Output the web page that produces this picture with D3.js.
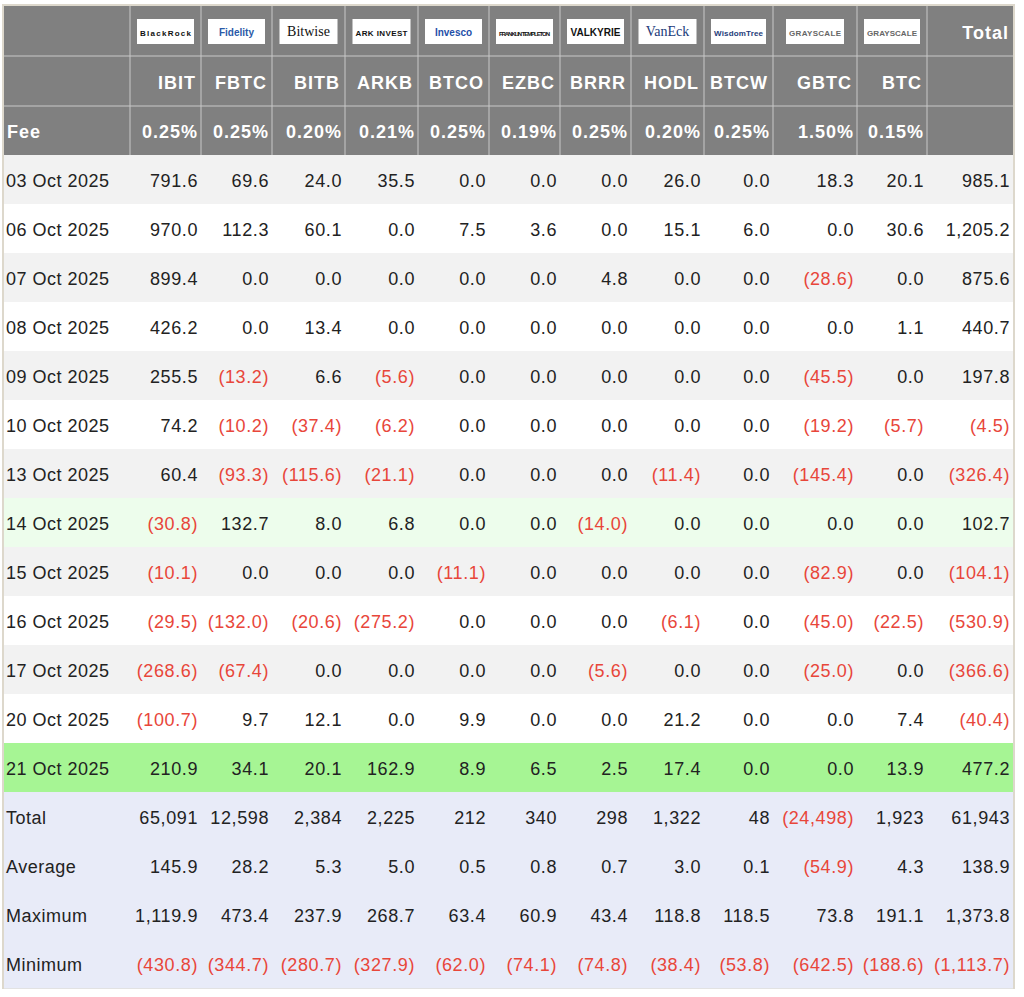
<!DOCTYPE html>
<meta charset="utf-8">
<script src="https://d3js.org/d3.v7.min.js"></script>
<style>body{margin:0;background:#fff}</style>
<body>
<div id="chart"></div>
<script>
// column data
const issuers = ["BlackRock", "Fidelity", "Bitwise", "ARK INVEST", "Invesco", "FRANKLIN TEMPLETON", "VALKYRIE", "VanEck", "WisdomTree", "GRAYSCALE", "GRAYSCALE"];
const tickers = ["IBIT", "FBTC", "BITB", "ARKB", "BTCO", "EZBC", "BRRR", "HODL", "BTCW", "GBTC", "BTC"];
const fees = ["0.25%", "0.25%", "0.20%", "0.21%", "0.25%", "0.19%", "0.25%", "0.20%", "0.25%", "1.50%", "0.15%"];

const dates = ["03 Oct 2025", "06 Oct 2025", "07 Oct 2025", "08 Oct 2025", "09 Oct 2025", "10 Oct 2025", "13 Oct 2025",
  "14 Oct 2025", "15 Oct 2025", "16 Oct 2025", "17 Oct 2025", "20 Oct 2025", "21 Oct 2025"];
const flows = [
  [791.6, 69.6, 24.0, 35.5, 0.0, 0.0, 0.0, 26.0, 0.0, 18.3, 20.1, 985.1],
  [970.0, 112.3, 60.1, 0.0, 7.5, 3.6, 0.0, 15.1, 6.0, 0.0, 30.6, 1205.2],
  [899.4, 0.0, 0.0, 0.0, 0.0, 0.0, 4.8, 0.0, 0.0, -28.6, 0.0, 875.6],
  [426.2, 0.0, 13.4, 0.0, 0.0, 0.0, 0.0, 0.0, 0.0, 0.0, 1.1, 440.7],
  [255.5, -13.2, 6.6, -5.6, 0.0, 0.0, 0.0, 0.0, 0.0, -45.5, 0.0, 197.8],
  [74.2, -10.2, -37.4, -6.2, 0.0, 0.0, 0.0, 0.0, 0.0, -19.2, -5.7, -4.5],
  [60.4, -93.3, -115.6, -21.1, 0.0, 0.0, 0.0, -11.4, 0.0, -145.4, 0.0, -326.4],
  [-30.8, 132.7, 8.0, 6.8, 0.0, 0.0, -14.0, 0.0, 0.0, 0.0, 0.0, 102.7],
  [-10.1, 0.0, 0.0, 0.0, -11.1, 0.0, 0.0, 0.0, 0.0, -82.9, 0.0, -104.1],
  [-29.5, -132.0, -20.6, -275.2, 0.0, 0.0, 0.0, -6.1, 0.0, -45.0, -22.5, -530.9],
  [-268.6, -67.4, 0.0, 0.0, 0.0, 0.0, -5.6, 0.0, 0.0, -25.0, 0.0, -366.6],
  [-100.7, 9.7, 12.1, 0.0, 9.9, 0.0, 0.0, 21.2, 0.0, 0.0, 7.4, -40.4],
  [210.9, 34.1, 20.1, 162.9, 8.9, 6.5, 2.5, 17.4, 0.0, 0.0, 13.9, 477.2]
];
const statLabels = ["Total", "Average", "Maximum", "Minimum"];
const stats = [
  [65091, 12598, 2384, 2225, 212, 340, 298, 1322, 48, -24498, 1923, 61943],
  [145.9, 28.2, 5.3, 5.0, 0.5, 0.8, 0.7, 3.0, 0.1, -54.9, 4.3, 138.9],
  [1119.9, 473.4, 237.9, 268.7, 63.4, 60.9, 43.4, 118.8, 118.5, 73.8, 191.1, 1373.8],
  [-430.8, -344.7, -280.7, -327.9, -62.0, -74.1, -74.8, -38.4, -53.8, -642.5, -188.6, -1113.7]
];

const colEdges = [4, 130, 201, 272, 345, 418, 489, 560, 631, 704, 773, 857, 927, 1013];
const headH = [6, 56, 106, 155];
const top0 = 155, rowH = 49;
const font = "Helvetica, Arial, 'Liberation Sans', sans-serif";

const svg = d3.select("#chart").append("svg").attr("width", 1024).attr("height", 997);
const x = i => colEdges[i];

const fmt1 = d3.format(",.1f"), fmt0 = d3.format(",.0f");
const show = (v, f) => v < 0 ? `(${f(-v)})` : f(v);

// outer frame
svg.append("rect").attr("x", 3).attr("y", 5).attr("width", 1011).attr("height", 983)
  .attr("fill", "none").attr("stroke", "#ddd8cc").attr("stroke-width", 2);

// header
svg.append("rect").attr("x", 4).attr("y", 6).attr("width", 1009).attr("height", 149).attr("fill", "#808080");

const g = svg.append("g").attr("font-family", font);

issuers.forEach((name, i) => {
  const cx = (x(i + 1) + x(i + 2)) / 2;
  const w = Math.min(58, x(i + 2) - x(i + 1) - 14);
  g.append("rect").attr("x", cx - w / 2).attr("y", 19).attr("width", w).attr("height", 25).attr("fill", "#fff");
  const colr = {"Fidelity": "#2a5aa8", "Invesco": "#1f4fa8", "VanEck": "#1b3a7a", "WisdomTree": "#253d7a", "GRAYSCALE": "#666"}[name] || "#111";
  const serif = name === "Bitwise" || name === "VanEck";
  g.append("text").attr("x", cx).attr("y", 35.5).attr("text-anchor", "middle")
    .attr("font-size", name.length > 12 ? 6 : (name.length > 8 ? 8 : (serif ? 14 : 10)))
    .attr("font-weight", serif ? "normal" : "bold")
    .attr("font-family", serif ? "'Liberation Serif', serif" : font)
    .attr("textLength", name.length > 8 ? w - 6 : null)
    .attr("fill", colr).text(name);
});

const hdr = (t, xx, yy, anchor) => g.append("text").attr("x", xx).attr("y", yy).attr("text-anchor", anchor)
  .attr("fill", "#fff").attr("font-size", 18).attr("font-weight", "bold").attr("letter-spacing", 1).text(t);
hdr("Fee", 7, 138, "start");
tickers.forEach((t, i) => {
  hdr(t, x(i + 2) - 5, 89, "end");
  hdr(fees[i], x(i + 2) - 3, 138, "end");
});
hdr("Total", x(13) - 4, 39, "end");

// header grid
colEdges.slice(1, -1).forEach(e => g.append("line").attr("x1", e).attr("x2", e).attr("y1", 6).attr("y2", 155).attr("stroke", "#c8c8c8"));
headH.slice(1, 3).forEach(h => g.append("line").attr("x1", 4).attr("x2", 1013).attr("y1", h).attr("y2", h).attr("stroke", "#c8c8c8"));

// body rows
const rows = dates.map((d, i) => ({label: d, vals: flows[i], f: fmt1, kind: "data", i}))
  .concat(statLabels.map((d, i) => ({label: d, vals: stats[i], f: i === 0 ? fmt0 : fmt1, kind: "stat", i})));

const rowFill = r => {
  if (r.kind === "stat") return "#e8ebf8";
  if (r.label === "14 Oct 2025") return "#edfdec";
  if (r.label === "21 Oct 2025") return "#a6f594";
  return r.i % 2 === 0 ? "#f2f2f2" : "#ffffff";
};

const y = d3.scaleLinear().domain([0, rows.length]).range([top0, top0 + rowH * rows.length]);

const rg = g.selectAll("g.row").data(rows).join("g").attr("class", "row")
  .attr("transform", (d, i) => `translate(0,${y(i)})`);
rg.append("rect").attr("x", 4).attr("width", 1009).attr("height", rowH + 0.5).attr("fill", rowFill);
rg.append("text").attr("x", 6).attr("y", rowH / 2 + 7).attr("font-size", 18).attr("fill", "#222").attr("letter-spacing", 0.5).text(d => d.label);
rg.selectAll("text.v").data(d => d.vals.map(v => ({v, f: d.f}))).join("text").attr("class", "v")
  .attr("x", (d, j) => x(j + 2) - 3).attr("y", rowH / 2 + 7).attr("text-anchor", "end")
  .attr("font-size", 18).attr("letter-spacing", 0.6)
  .attr("fill", d => d.v < 0 ? "#e8463a" : "#222").text(d => show(d.v, d.f));
</script>
</body>
